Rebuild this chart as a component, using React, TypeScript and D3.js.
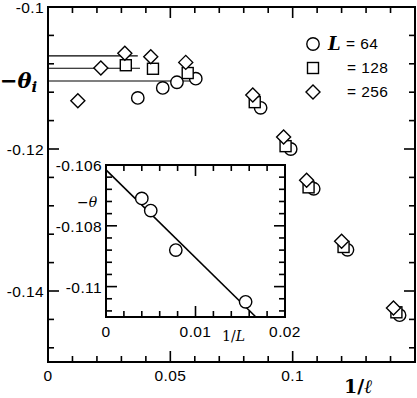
import React from 'react';
import * as d3 from 'd3';

// main panel: -theta_i versus 1/ell for three system sizes
const invEll64 = [0.0367, 0.0469, 0.0527, 0.0604, 0.0869, 0.0992, 0.1086, 0.1224, 0.1437];
const theta64 = [-0.1128, -0.1114, -0.1106, -0.1101, -0.1142, -0.12, -0.1256, -0.1342, -0.1434];
const invEll128 = [0.0318, 0.0429, 0.0571, 0.0845, 0.0971, 0.1065, 0.1208, 0.1424];
const theta128 = [-0.1082, -0.1087, -0.1093, -0.1134, -0.1196, -0.1254, -0.1338, -0.143];
const invEll256 = [0.0122, 0.0216, 0.0314, 0.042, 0.0563, 0.0837, 0.0963, 0.1057, 0.12, 0.1412];
const theta256 = [-0.1132, -0.1086, -0.1065, -0.107, -0.1078, -0.1124, -0.1183, -0.1244, -0.133, -0.1424];

// plateau lines drawn from 1/ell = 0
const plateauTheta = [-0.10688, -0.10863, -0.11042];
const plateauEnd = [0.0367, 0.0376, 0.0608];

const legendLabels = ['= 64', '= 128', '= 256'];

// inset: extrapolated -theta versus 1/L
const invL = [0.004, 0.005, 0.0078, 0.0156];
const thetaL = [-0.1071, -0.1075, -0.1088, -0.1105];
const fitIntercept = -0.10616;
const fitSlope = -0.289;

const mainXLabels = [0, 0.05, 0.1];
const mainYLabels = [-0.1, -0.12, -0.14];
const insetXLabels = [0, 0.01, 0.02];
const insetYLabels = [-0.106, -0.108, -0.11];

const NUM_FONT = '"Liberation Sans", Arial, sans-serif';
const MATH_FONT = '"DejaVu Serif", "Liberation Serif", serif';
const NUM_SIZE = 15.5;
const NUM_SPACING = 0.4;

function Marker({ kind, cx, cy }: { kind: string; cx: number; cy: number }) {
  const common = { fill: 'white', stroke: 'black', strokeWidth: 1.4 };
  if (kind === 'circle') return <circle cx={cx} cy={cy} r={6.2} {...common} />;
  if (kind === 'square') return <rect x={cx - 5.5} y={cy - 5.5} width={11} height={11} {...common} />;
  const d = 7;
  return <path d={`M${cx},${cy - d}L${cx + d},${cy}L${cx},${cy + d}L${cx - d},${cy}Z`} {...common} />;
}

function Frame({ x, y, minorX, majorX, minorY, majorY }: any) {
  const [x0, x1] = x.range();
  const [y0, y1] = y.range(); // y0 bottom, y1 top
  const lines: any[] = [];
  const isMajor = (v: number, majors: number[]) => majors.some(m => Math.abs(m - v) < 1e-9);
  minorX.forEach((v: number, i: number) => {
    const px = x(v);
    const len = isMajor(v, majorX) ? 11 : 6;
    lines.push(<line key={`xb${i}`} x1={px} x2={px} y1={y0} y2={y0 - len} />);
    lines.push(<line key={`xt${i}`} x1={px} x2={px} y1={y1} y2={y1 + len} />);
  });
  minorY.forEach((v: number, i: number) => {
    const py = y(v);
    const len = isMajor(v, majorY) ? 11 : 6;
    lines.push(<line key={`yl${i}`} x1={x0} x2={x0 + len} y1={py} y2={py} />);
    lines.push(<line key={`yr${i}`} x1={x1} x2={x1 - len} y1={py} y2={py} />);
  });
  return (
    <g stroke="black" strokeWidth={1.6}>
      {lines}
      <rect x={x0} y={y1} width={x1 - x0} height={y0 - y1} fill="none" strokeWidth={2} />
    </g>
  );
}

export default function App() {
  const width = 417;
  const height = 398;

  const x = d3.scaleLinear().domain([0, 0.15]).range([48, 415]);
  const y = d3.scaleLinear().domain([-0.15, -0.1]).range([362, 7]);

  const ix = d3.scaleLinear().domain([0, 0.02]).range([106, 285]);
  const iy = d3.scaleLinear().domain([-0.111, -0.106]).range([317, 165]);

  const mainMinorX = d3.range(0, 16).map(i => i / 100);
  const mainMinorY = d3.range(0, 13).map(i => -0.1 - i * 0.004);
  const insetMinorX = d3.range(0, 11).map(i => i * 0.002);
  const insetMinorY = d3.range(0, 13).map(i => -0.106 - i * 0.0004);

  const series = [
    { kind: 'circle', xs: invEll64, ys: theta64 },
    { kind: 'square', xs: invEll128, ys: theta128 },
    { kind: 'diamond', xs: invEll256, ys: theta256 },
  ];

  const fitEnd = (-0.111 - fitIntercept) / fitSlope;
  const fitLine = d3.line<number>().x(d => ix(d)).y(d => iy(fitIntercept + fitSlope * d));

  return (
    <svg width={width} height={height} style={{ position: 'absolute', left: 0, top: 0 }}>
      <rect width={width} height={height} fill="white" />

      {/* plateau lines */}
      <g stroke="black" strokeWidth={1.2}>
        {plateauTheta.map((t, i) => (
          <line key={i} x1={x(0)} x2={x(plateauEnd[i])} y1={y(t)} y2={y(t)} />
        ))}
      </g>

      {/* main data */}
      {series.map(s =>
        s.xs.map((v, i) => <Marker key={`${s.kind}${i}`} kind={s.kind} cx={x(v)} cy={y(s.ys[i])} />)
      )}

      <Frame x={x} y={y} minorX={mainMinorX} majorX={mainXLabels} minorY={mainMinorY} majorY={mainYLabels} />

      <g fontFamily={NUM_FONT} fontSize={NUM_SIZE} letterSpacing={NUM_SPACING} fill="black">
        {mainXLabels.map(v => (
          <text key={v} x={x(v)} y={381} textAnchor="middle">{v}</text>
        ))}
        {mainYLabels.map(v => (
          <text key={v} x={44} y={y(v) + 6} textAnchor="end">{v}</text>
        ))}
      </g>

      {/* axis titles */}
      <text x={0} y={88} fontFamily={MATH_FONT} fontSize={21} fontStyle="italic" fontWeight="bold">
        −θ<tspan fontSize={15} dy={4}>i</tspan>
      </text>
      <text x={344} y={393} fontFamily={MATH_FONT} fontSize={19} fontWeight="bold">
        1/<tspan fontStyle="italic">ℓ</tspan>
      </text>

      {/* legend */}
      {series.map((s, i) => (
        <g key={s.kind}>
          <Marker kind={s.kind} cx={313} cy={44 + i * 24} />
          <text x={i === 0 ? 346 : 347} y={49 + i * 24} fontFamily={NUM_FONT} fontSize={NUM_SIZE} letterSpacing={NUM_SPACING}>
            {legendLabels[i]}
          </text>
        </g>
      ))}
      <text x={328} y={50} fontFamily={MATH_FONT} fontSize={18} fontStyle="italic" fontWeight="bold">L</text>

      {/* inset */}
      <rect x={ix(0)} y={iy(-0.106)} width={ix(0.02) - ix(0)} height={iy(-0.111) - iy(-0.106)} fill="white" />
      <path d={fitLine([0, fitEnd]) || ''} fill="none" stroke="black" strokeWidth={1.6} />
      {invL.map((v, i) => (
        <Marker key={`in${i}`} kind="circle" cx={ix(v)} cy={iy(thetaL[i])} />
      ))}
      <Frame x={ix} y={iy} minorX={insetMinorX} majorX={insetXLabels} minorY={insetMinorY} majorY={insetYLabels} />
      <g fontFamily={NUM_FONT} fontSize={NUM_SIZE} letterSpacing={NUM_SPACING} fill="black">
        {insetXLabels.map(v => (
          <text key={v} x={ix(v)} y={337} textAnchor="middle">{v}</text>
        ))}
        {insetYLabels.map(v => (
          <text key={v} x={102} y={iy(v) + 6} textAnchor="end">{v}</text>
        ))}
      </g>
      <text x={77} y={207} fontFamily={MATH_FONT} fontSize={14} fontStyle="italic">−θ</text>
      <text x={222} y={341} fontFamily={MATH_FONT} fontSize={14} fontStyle="italic">
        <tspan fontStyle="normal">1/</tspan>L
      </text>
    </svg>
  );
}
